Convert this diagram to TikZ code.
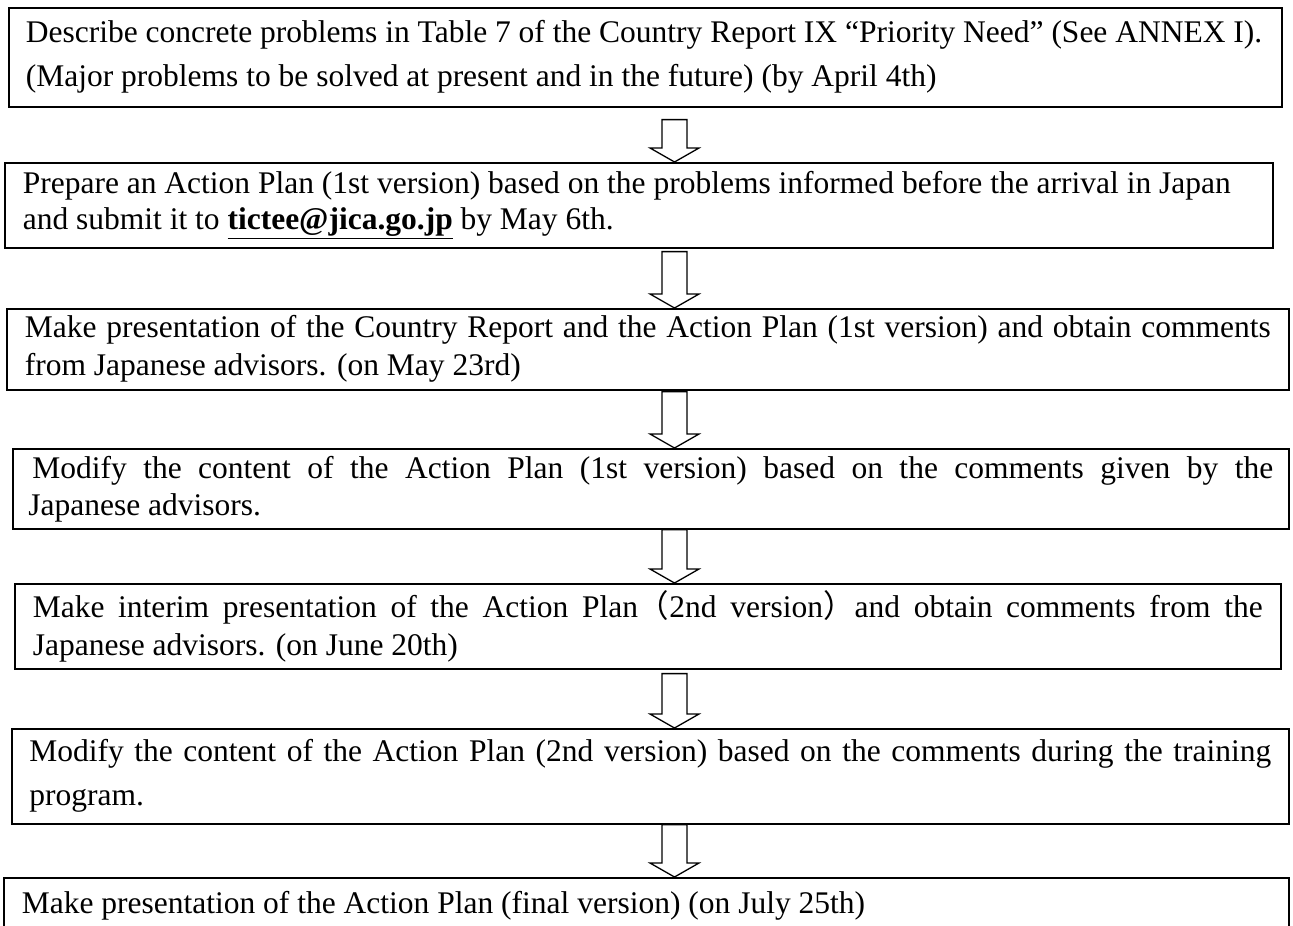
\documentclass[tikz,border=0pt]{standalone}
\usepackage{fontspec}
\setmainfont{Liberation Serif}
\newfontfamily\cjkfont{Noto Sans CJK JP}
\usetikzlibrary{calc}
\tikzset{
  stepbox/.style    = {draw, line width=1.6pt, rectangle, anchor=north west,
                       align=justify, inner ysep=0pt},
  flow arrow/.style = {draw, line width=1.3pt, fill=white, line join=miter},
}

\begin{document}
\begin{tikzpicture}[x=1pt,y=-1pt]
  \useasboundingbox (0,0) rectangle (1293,926);

  \node[stepbox, minimum width=1273pt, minimum height=99pt, text width=1239pt,
        font=\fontsize{31.5}{44}\selectfont] (b1) at (8,7)
    {Describe concrete problems in Table 7 of the Country Report IX “Priority Need” (See ANNEX I).\\
     (Major problems to be solved at present and in the future) (by April 4th)};
  \node[stepbox, minimum width=1268pt, minimum height=85pt, text width=1232pt,
        font=\fontsize{31.5}{36}\selectfont] (b2) at (4,162)
    {Prepare an Action Plan (1st version) based on the problems informed before the arrival in Japan\\
     and submit it to \underline{\textbf{tictee@jica.go.jp}} by May 6th.};
  \node[stepbox, minimum width=1282pt, minimum height=81pt, text width=1246pt,
        font=\fontsize{31.5}{38}\selectfont] (b3) at (6,308)
    {Make presentation of the Country Report and the Action Plan (1st version) and obtain comments\linebreak
     from Japanese advisors. (on May 23rd)};
  \node[stepbox, minimum width=1276pt, minimum height=80pt, text width=1245pt,
        font=\fontsize{31.5}{37}\selectfont] (b4) at (12,448)
    {\hspace*{4pt}Modify the content of the Action Plan (1st version) based on the comments given by the\linebreak
     Japanese advisors.};
  \node[stepbox, minimum width=1266pt, minimum height=85pt, text width=1230pt,
        font=\fontsize{31.5}{38}\selectfont] (b5) at (14,583)
    {Make interim presentation of the Action Plan{\cjkfont（}2nd version{\cjkfont）}and obtain comments from the\linebreak
     Japanese advisors. (on June 20th)};
  \node[stepbox, minimum width=1277pt, minimum height=95pt, text width=1242pt,
        font=\fontsize{31.5}{44}\selectfont] (b6) at (11,728)
    {Modify the content of the Action Plan (2nd version) based on the comments during the training\linebreak
     program.};
  \node[stepbox, minimum width=1285pt, minimum height=55pt, text width=1249pt,
        font=\fontsize{31.5}{38}\selectfont] (b7) at (3,877)
    {Make presentation of the Action Plan (final version) (on July 25th)};

  \coordinate (ax) at (674.5,0);
  \foreach \a/\b/\g in {b1/b2/12, b2/b3/3, b3/b4/1, b4/b5/0, b5/b6/4, b6/b7/0}
    \draw[flow arrow] let \p1=(ax |- \a.south), \p2=(ax |- \b.north) in
      (\x1-12.5,\y1-\g) -- (\x1-12.5,\y2+14) -- (\x1-24.5,\y2+14) -- (\x2,\y2)
      -- (\x1+24.5,\y2+14) -- (\x1+12.5,\y2+14) -- (\x1+12.5,\y1-\g) -- cycle;
\end{tikzpicture}
\end{document}
